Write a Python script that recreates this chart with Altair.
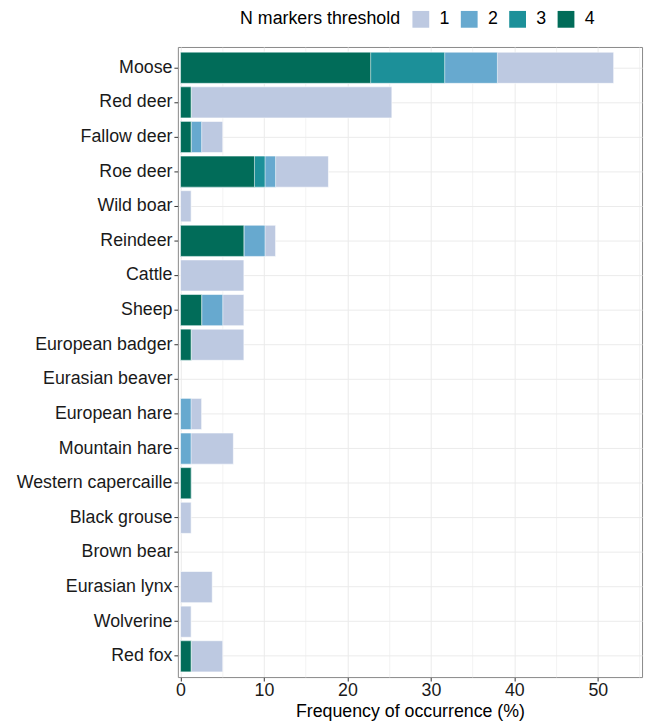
import altair as alt
import pandas as pd

species = ["Moose", "Red deer", "Fallow deer", "Roe deer", "Wild boar", "Reindeer",
           "Cattle", "Sheep", "European badger", "Eurasian beaver", "European hare",
           "Mountain hare", "Western capercaille", "Black grouse", "Brown bear",
           "Eurasian lynx", "Wolverine", "Red fox"]

thr1 = [51.9, 25.32, 5.06, 17.72, 1.27, 11.39, 7.59, 7.59, 7.59, 0, 2.53, 6.33, 1.27, 1.27, 0, 3.8, 1.27, 5.06]
thr2 = [37.97, 1.27, 2.53, 11.39, 0, 10.13, 0, 5.06, 1.27, 0, 1.27, 1.27, 1.27, 0, 0, 0, 0, 1.27]
thr3 = [31.65, 1.27, 1.27, 10.13, 0, 7.59, 0, 2.53, 1.27, 0, 0, 0, 1.27, 0, 0, 0, 0, 1.27]
thr4 = [22.78, 1.27, 1.27, 8.86, 0, 7.59, 0, 2.53, 1.27, 0, 0, 0, 1.27, 0, 0, 0, 0, 1.27]

thresholds = ["1", "2", "3", "4"]
colors = ["#bdc9e1", "#67a9cf", "#1c9099", "#016c59"]

rows = []
for t, vals in zip(thresholds, [thr1, thr2, thr3, thr4]):
    for s, v in zip(species, vals):
        rows.append({"species": s, "threshold": t, "value": v, "ord": int(t)})
df = pd.DataFrame(rows)

font = "Liberation Sans"

chart = alt.Chart(df).transform_filter("datum.value > 0").mark_bar(
    stroke="white", strokeWidth=0.6
).encode(
    x=alt.X("value:Q", stack=None,
            scale=alt.Scale(domain=[-0.32, 55.3], nice=False, zero=False),
            axis=alt.Axis(values=[0, 5, 10, 15, 20, 25, 30, 35, 40, 45, 50, 55],
                          labelExpr="datum.value % 10 === 0 ? datum.label : ''",
                          tickOpacity={"condition": {"test": "datum.value % 10 === 0", "value": 1}, "value": 0},
                          gridWidth={"condition": {"test": "datum.value % 10 === 0", "value": 1}, "value": 0.6},
                          title="Frequency of occurrence (%)")),
    y=alt.Y("species:N", scale=alt.Scale(domain=species, paddingInner=0.1, paddingOuter=0.15),
            axis=alt.Axis(title=None, bandPosition=0.5, grid=True)),
    color=alt.Color("threshold:N", scale=alt.Scale(domain=thresholds, range=colors),
                    legend=alt.Legend(title="N markers threshold", orient="none",
                                      legendX=63, legendY=-37,
                                      direction="horizontal", titleOrient="left",
                                      symbolType="square", symbolSize=289,
                                      symbolStrokeWidth=0, symbolOpacity=1,
                                      labelFontSize=18, titleFontSize=18,
                                      titleFontWeight="normal", titleFont=font,
                                      labelFont=font, titleColor="black",
                                      labelColor="black", columnPadding=10,
                                      labelOffset=10, titlePadding=11)),
    order=alt.Order("ord:Q")
).properties(
    width=470, height=638,
    autosize=alt.AutoSizeParams(type="none"),
    padding={"left": 172, "top": 35, "right": 4, "bottom": 40}
).configure_axis(
    labelFont=font, titleFont=font, labelFontSize=18, titleFontSize=18,
    titleFontWeight="normal", labelColor="#1a1a1a", titleColor="black",
    gridColor="#ebebeb", domain=False, tickColor="#333333", tickSize=4,
    labelPadding=2
).configure_axisX(
    titlePadding=3, labelPadding=1
).configure_view(
    stroke="#888888", strokeWidth=1
)

chart.save("out.html", embed_options={"renderer": "svg", "actions": False})
